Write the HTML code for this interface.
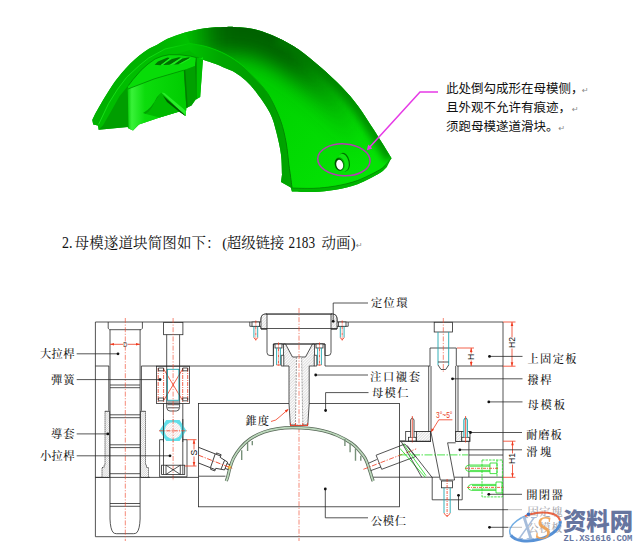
<!DOCTYPE html>
<html lang="zh"><head><meta charset="utf-8"><title>母模遂道块</title>
<style>
html,body{margin:0;padding:0;background:#fff;}
body{width:640px;height:551px;overflow:hidden;position:relative;}
svg{position:absolute;left:0;top:0;display:block;}
.note{font-family:"Liberation Sans","Noto Sans CJK SC",sans-serif;font-size:12.5px;fill:#111;font-weight:400;}
.head{font-family:"Liberation Serif","Noto Serif CJK SC",serif;font-size:14.5px;fill:#111;}
.lab{font-family:"Liberation Serif","Noto Serif CJK SC",serif;font-size:11.3px;fill:#1a1a1a;font-weight:500;}
.pm{font-family:"DejaVu Sans",sans-serif;font-size:8px;fill:#888;}
.k{stroke:#2a2a2a;stroke-width:.8;fill:none;}
.kf{stroke:#2a2a2a;stroke-width:.8;fill:#fff;}
.r{stroke:#f03a1e;stroke-width:.8;fill:none;}
.rd{stroke:#f04a30;stroke-width:.65;fill:none;stroke-dasharray:5 1.5 1.2 1.5;}
.c{stroke:#1fa7b0;stroke-width:.9;fill:none;}
.g{stroke:#1fdc1f;stroke-width:.8;fill:none;}
.dim{font-family:"Liberation Sans",sans-serif;font-size:8.5px;fill:#111;}
</style></head><body>
<svg width="640" height="551" viewBox="0 0 640 551">
<defs>
<pattern id="h1" width="2" height="2" patternUnits="userSpaceOnUse" patternTransform="rotate(45)"><rect width="2" height="2" fill="#fff"/><line x1="0" y1="0" x2="0" y2="2" stroke="#8c8c8c" stroke-width=".6"/></pattern>
<pattern id="h2" width="1.5" height="1.5" patternUnits="userSpaceOnUse" patternTransform="rotate(45)"><rect width="1.5" height="1.5" fill="#fff"/><line x1="0" y1="0" x2="0" y2="1.5" stroke="#8c8c8c" stroke-width=".6"/></pattern>
<pattern id="h3" width="1.8" height="1.8" patternUnits="userSpaceOnUse" patternTransform="rotate(45)"><rect width="1.8" height="1.8" fill="#fff"/><line x1="0" y1="0" x2="0" y2="1.8" stroke="#d9b8b8" stroke-width=".7"/></pattern>
<linearGradient id="gTop" gradientUnits="userSpaceOnUse" x1="200" y1="30" x2="360" y2="180"><stop offset="0" stop-color="#00c600"/><stop offset=".45" stop-color="#00d200"/><stop offset="1" stop-color="#04e404"/></linearGradient>
<linearGradient id="gEdge" gradientUnits="userSpaceOnUse" x1="186" y1="0" x2="360" y2="0"><stop offset="0" stop-color="#005000" stop-opacity="0"/><stop offset=".2" stop-color="#005000" stop-opacity=".85"/><stop offset=".6" stop-color="#005000" stop-opacity=".85"/><stop offset="1" stop-color="#005000" stop-opacity="0"/></linearGradient>
<linearGradient id="gInner" gradientUnits="userSpaceOnUse" x1="190" y1="0" x2="295" y2="0"><stop offset="0" stop-color="#00c200"/><stop offset=".3" stop-color="#00a600"/><stop offset=".7" stop-color="#009c00"/><stop offset="1" stop-color="#00a800"/></linearGradient>
<linearGradient id="gFront" gradientUnits="userSpaceOnUse" x1="127" y1="0" x2="187" y2="0"><stop offset="0" stop-color="#00c800"/><stop offset=".08" stop-color="#38f238"/><stop offset=".3" stop-color="#0cdc0c"/><stop offset="1" stop-color="#00cc00"/></linearGradient>
<linearGradient id="gRimA" gradientUnits="userSpaceOnUse" x1="92" y1="0" x2="190" y2="0"><stop offset="0" stop-color="#00b000"/><stop offset=".7" stop-color="#00b400"/><stop offset="1" stop-color="#00c200"/></linearGradient>
<linearGradient id="gRimB" gradientUnits="userSpaceOnUse" x1="92" y1="0" x2="190" y2="0"><stop offset="0" stop-color="#00bc00"/><stop offset=".7" stop-color="#00be00"/><stop offset="1" stop-color="#00c200"/></linearGradient>
<linearGradient id="gRimL" gradientUnits="userSpaceOnUse" x1="92" y1="0" x2="190" y2="0"><stop offset="0" stop-color="#18e018"/><stop offset=".7" stop-color="#10d810"/><stop offset="1" stop-color="#00c800"/></linearGradient>
<linearGradient id="gSeam" gradientUnits="userSpaceOnUse" x1="190" y1="0" x2="295" y2="0"><stop offset="0" stop-color="#00c800"/><stop offset=".5" stop-color="#00cc00"/><stop offset=".8" stop-color="#009000"/><stop offset="1" stop-color="#008400"/></linearGradient>
<filter id="blur" x="-30%" y="-40%" width="160%" height="180%"><feGaussianBlur stdDeviation="10"/></filter><filter id="blur2" x="-30%" y="-30%" width="160%" height="160%"><feGaussianBlur stdDeviation="3.5"/></filter>
</defs>
<!--GREEN-->
<g id="green">
<path fill="#00b800" d="M92.3 119.9 C92.9 118.7 94.1 115.9 95.9 112.6 C97.7 109.3 100.4 104.4 103.1 99.9 C105.8 95.4 109.2 89.8 112.2 85.4 C115.2 81.0 118.3 77.2 121.3 73.6 C124.3 70.0 127.4 66.6 130.4 63.6 C133.4 60.6 136.4 57.8 139.4 55.4 C142.4 53.0 145.5 50.9 148.5 49.1 C151.5 47.3 154.4 46.2 157.6 44.5 C160.8 42.8 162.9 40.8 167.5 38.8 C172.1 36.8 178.8 34.2 185.0 32.5 C191.2 30.8 198.3 29.2 205.0 28.2 C211.7 27.3 220.0 27.2 225.0 27.0 C230.0 26.8 229.8 26.6 235.0 27.0 C240.2 27.4 249.3 27.9 256.4 29.7 C263.5 31.5 270.6 34.4 277.7 37.7 C284.8 41.0 291.9 44.8 299.0 49.7 C306.1 54.6 313.3 60.8 320.4 67.0 C327.5 73.2 335.6 80.5 341.8 87.0 C348.0 93.5 352.5 98.6 357.8 105.7 C363.1 112.8 368.2 121.1 373.8 129.8 C379.4 138.5 388.5 153.3 391.4 158.0 L386.0 164.5 L387.0 166.7 L387.0 166.7 C385.7 167.8 384.3 170.4 379.4 173.3 C374.5 176.2 364.8 181.5 357.5 184.2 C350.2 186.9 342.9 188.4 335.6 189.7 C328.3 191.0 321.0 191.6 313.8 191.9 C306.5 192.2 295.5 191.5 291.9 191.4 L290.8 187.5 L281.0 182.0 L282.0 174.4 C281.8 171.1 281.9 161.6 281.0 154.7 C280.1 147.8 278.3 139.8 276.5 132.8 C274.7 125.9 273.4 119.7 270.0 113.0 C266.6 106.3 260.4 97.8 256.4 92.4 C252.3 87.0 249.3 83.7 245.7 80.4 C242.1 77.1 238.4 74.5 235.0 72.4 C231.6 70.3 228.3 69.4 225.0 68.0 C221.7 66.6 218.7 65.1 215.0 63.8 C211.3 62.4 205.0 60.5 203.0 59.8 L200.2 96.9 L195.9 99.5 L191.5 105.5 L186.4 108.0 L185.5 115.9 L179.5 111.5 L159.7 117.6 L139.0 124.5 L133.0 130.5 L128.6 128.5 L127.6 127.0 L98.6 129.8 L97.8 125.5 L93.2 124.6 Z"/>
<clipPath id="cpTop"><path d="M185.0 32.5 C188.3 31.8 198.3 29.2 205.0 28.2 C211.7 27.3 220.0 27.2 225.0 27.0 C230.0 26.8 229.8 26.6 235.0 27.0 C240.2 27.4 249.3 27.9 256.4 29.7 C263.5 31.5 270.6 34.4 277.7 37.7 C284.8 41.0 291.9 44.8 299.0 49.7 C306.1 54.6 313.3 60.8 320.4 67.0 C327.5 73.2 335.6 80.5 341.8 87.0 C348.0 93.5 352.5 98.6 357.8 105.7 C363.1 112.8 368.2 121.1 373.8 129.8 C379.4 138.5 388.5 153.3 391.4 158.0 L391.4 158.0 C390.5 159.1 388.0 162.5 386.0 164.5 C384.0 166.5 384.1 167.3 379.4 170.0 C374.6 172.7 364.8 177.8 357.5 180.5 C350.2 183.2 342.9 184.7 335.6 186.0 C328.3 187.3 321.0 188.0 313.8 188.3 C306.5 188.6 295.6 188.1 292.0 188.0 L292.0 188.0 C291.8 186.0 291.0 179.9 290.5 176.0 C290.0 172.1 289.6 170.3 288.9 164.8 C288.2 159.3 287.5 150.3 286.2 143.0 C284.9 135.7 283.3 128.4 280.8 121.2 C278.3 114.0 274.1 105.0 271.2 99.5 C268.3 94.0 266.7 91.9 263.6 88.0 C260.5 84.1 256.3 79.8 252.7 76.0 C249.1 72.2 246.2 68.6 241.8 65.0 C237.4 61.4 231.7 57.5 226.0 54.5 C220.3 51.5 213.5 48.8 207.5 47.0 C201.5 45.2 192.9 44.1 190.0 43.5 Z"/></clipPath>
<g clip-path="url(#cpTop)">
<rect x="160" y="20" width="240" height="180" fill="url(#gTop)"/>
<path d="M150.0 48.0 C155.8 45.4 175.8 35.8 185.0 32.5 C194.2 29.2 198.3 29.2 205.0 28.2 C211.7 27.3 220.0 27.2 225.0 27.0 C230.0 26.8 229.8 26.6 235.0 27.0 C240.2 27.4 249.3 27.9 256.4 29.7 C263.5 31.5 270.6 34.4 277.7 37.7 C284.8 41.0 291.9 44.8 299.0 49.7 C306.1 54.6 313.3 60.8 320.4 67.0 C327.5 73.2 335.6 80.5 341.8 87.0 C348.0 93.5 352.5 98.6 357.8 105.7 C363.1 112.8 368.2 121.1 373.8 129.8 C379.4 138.5 388.5 153.3 391.4 158.0" fill="none" stroke="url(#gEdge)" stroke-width="56" filter="url(#blur)" stroke-linejoin="round"/>
<path d="M277.7 37.7 C281.2 39.7 291.9 44.8 299.0 49.7 C306.1 54.6 313.3 60.8 320.4 67.0 C327.5 73.2 335.6 80.5 341.8 87.0 C348.0 93.5 352.5 98.6 357.8 105.7 C363.1 112.8 368.2 121.1 373.8 129.8 C379.4 138.5 388.5 153.3 391.4 158.0" fill="none" stroke="#007800" stroke-opacity=".75" stroke-width="14" filter="url(#blur2)" stroke-linejoin="round"/>
</g>
<path fill="url(#gInner)" d="M190.0 43.5 C192.9 44.1 201.5 45.2 207.5 47.0 C213.5 48.8 220.3 51.5 226.0 54.5 C231.7 57.5 237.4 61.4 241.8 65.0 C246.2 68.6 249.1 72.2 252.7 76.0 C256.3 79.8 260.5 84.1 263.6 88.0 C266.7 91.9 268.3 94.0 271.2 99.5 C274.1 105.0 278.3 114.0 280.8 121.2 C283.3 128.4 284.9 135.7 286.2 143.0 C287.5 150.3 288.2 159.3 288.9 164.8 C289.6 170.3 290.0 172.1 290.5 176.0 C291.0 179.9 291.8 186.0 292.0 188.0 L291.9 191.4 L290.8 187.5 L281.0 182.0 L282.0 174.4 C281.8 171.1 281.9 161.6 281.0 154.7 C280.1 147.8 278.3 139.8 276.5 132.8 C274.7 125.9 273.4 119.7 270.0 113.0 C266.6 106.3 260.4 97.8 256.4 92.4 C252.3 87.0 249.3 83.7 245.7 80.4 C242.1 77.1 238.4 74.5 235.0 72.4 C231.6 70.3 228.3 69.4 225.0 68.0 C221.7 66.6 218.7 65.1 215.0 63.8 C211.3 62.4 205.0 60.5 203.0 59.8 L190.0 51.0 Z"/>
<path fill="none" stroke="url(#gSeam)" stroke-width="1" d="M190.0 43.5 C192.9 44.1 201.5 45.2 207.5 47.0 C213.5 48.8 220.3 51.5 226.0 54.5 C231.7 57.5 237.4 61.4 241.8 65.0 C246.2 68.6 249.1 72.2 252.7 76.0 C256.3 79.8 260.5 84.1 263.6 88.0 C266.7 91.9 268.3 94.0 271.2 99.5 C274.1 105.0 278.3 114.0 280.8 121.2 C283.3 128.4 284.9 135.7 286.2 143.0 C287.5 150.3 288.2 159.3 288.9 164.8 C289.6 170.3 290.0 172.1 290.5 176.0 C291.0 179.9 291.8 186.0 292.0 188.0"/>
<path fill="#00b400" d="M292.0 188.0 C295.6 188.1 306.5 188.6 313.8 188.3 C321.0 188.0 328.3 187.3 335.6 186.0 C342.9 184.7 350.2 183.2 357.5 180.5 C364.8 177.8 374.6 172.7 379.4 170.0 C384.1 167.3 384.0 166.5 386.0 164.5 C388.0 162.5 390.5 159.1 391.4 158.0 L387.0 166.7 L387.0 166.7 C385.7 167.8 384.3 170.4 379.4 173.3 C374.5 176.2 364.8 181.5 357.5 184.2 C350.2 186.9 342.9 188.4 335.6 189.7 C328.3 191.0 321.0 191.6 313.8 191.9 C306.5 192.2 295.5 191.5 291.9 191.4 Z"/>
<path fill="none" stroke="#008000" stroke-width=".7" d="M292.0 188.0 C295.6 188.1 306.5 188.6 313.8 188.3 C321.0 188.0 328.3 187.3 335.6 186.0 C342.9 184.7 350.2 183.2 357.5 180.5 C364.8 177.8 374.6 172.7 379.4 170.0 C384.1 167.3 384.0 166.5 386.0 164.5 C388.0 162.5 390.5 159.1 391.4 158.0"/>
<path fill="url(#gRimA)" d="M92.3 119.9 L95.9 112.6 L103.1 99.9 L112.2 85.4 L121.3 73.6 L130.4 63.6 L139.4 55.4 L148.5 49.1 L157.6 44.5 L167.5 38.75 L185 32.5 L190 43.5 L165 49 L148.5 58.1 L139.4 65.4 L126.7 77.2 L117.7 89 L108.6 103.5 L98.6 124.4 L97.8 125.5 L93.2 124.6 Z"/>
<path fill="url(#gRimB)" d="M190 43.5 L165 49 L148.5 58.1 L139.4 65.4 L126.7 77.2 L117.7 89 L108.6 103.5 L98.6 124.4 L98.6 129.8 L103.1 125.3 L110.4 112.6 L119.5 96.3 L128.6 84.5 L139.4 72.7 L148.5 65.4 L154 61.8 L165 57.2 L190 50 Z"/>
<path fill="none" stroke="url(#gRimL)" stroke-width="1" d="M190 43.5 L165 49 L148.5 58.1 L139.4 65.4 L126.7 77.2 L117.7 89 L108.6 103.5 L98.6 124.4"/>
<path fill="#009e00" d="M98.6 129.8 L103.1 125.3 L110.4 112.6 L119.5 96.3 L128.4 85.6 L127.75 89.1 L128.6 128.5 L127.6 127 Z"/>
<path fill="#08dc08" d="M128.4 85.6 L133 79.5 L141.1 70.2 L148 64 L155.2 58.9 L162 56.2 L169.2 54.7 L180 54.8 L190.3 56.1 L198.8 58.2 L203 59.8 L203 57 L195 62.4 L195 65.9 L183.8 70.2 L169.2 74.4 L154.5 78.8 L127.75 89.1 Z"/>
<path fill="none" stroke="#008400" stroke-width=".8" d="M128.4 85.6 L133 79.5 L141.1 70.2 L148 64 L155.2 58.9 L162 56.2 L169.2 54.7 L180 54.8 L190.3 56.1 L198.8 58.2"/>
<path fill="#007000" d="M154.6 64.8 L158 61.6 L167.5 57.6 L170 58 L160.5 65.2 Z M162 65 L172 59 L179 57.2 L181 57.8 L170 64.8 Z M172 64.5 L182.5 58.4 L189 57.3 L190 58 L178 64.6 Z"/>
<path fill="#20ea20" d="M156.5 65.6 L160.5 65.2 L170 58 L171 58.6 L163 65 Z M166 65.4 L170 64.8 L181 57.8 L182 58.4 L174 64.4 Z M175.5 64.8 L178 64.6 L190 58 L190.6 58.8 L182 63.6 Z"/>
<path fill="url(#gFront)" d="M127.75 89.1 L154.5 78.8 L183.8 70.2 L186.4 108 L185.5 115.9 L179.5 111.5 L159.7 117.6 L139 124.5 L133 130.5 L128.6 128.5 Z"/>
<path fill="none" stroke="#009000" stroke-width=".8" d="M127.75 89.1 L154.5 78.8 L183.8 70.2"/>
<path fill="#00b800" d="M161.4 92.6 L185.5 113.3 L179.5 111.5 L159.7 117.6 L145.9 114.1 Q152 110 155 102 Z"/>
<path fill="#00a400" d="M145.9 114.1 Q152 110 155 102 L161.4 92.6 L157 97 Q152 108 143 113 Z"/>
<path fill="#28ee28" d="M161.4 92.6 L164.5 93 L186 111 L185.5 115.9 Z"/>
<path fill="#005800" d="M163 95.8 L184 114 L185.5 115.9 L179.5 112 L167 102 Z"/>
<path fill="#00a000" d="M183.8 70.2 L195 65.9 L195.9 98.6 L191.5 105.5 L186.4 108 Z"/>
<path fill="#008000" d="M183.8 70.2 L185.3 69.6 L187.8 107.3 L186.4 108 Z"/>
<path fill="#00c000" d="M195.9 57.2 L202.75 59.8 L200.2 96.9 L195.9 99.5 Z"/>
<path fill="#008a00" d="M195 65.9 L195.9 57.2 L196.8 57.5 L196.6 99 L195.9 99.5 Z"/>
</g>
<!--ANNOT-->
<g id="annot">
<g transform="rotate(-12 342 163)">
<ellipse cx="344.3" cy="162.6" rx="5.6" ry="9.4" fill="#007000"/>
<ellipse cx="343.3" cy="162.8" rx="5.4" ry="9" fill="#10e410"/>
<ellipse cx="339.6" cy="163.6" rx="4.9" ry="7" fill="#00b000"/>
<ellipse cx="338.9" cy="163.8" rx="4.4" ry="6.2" fill="#005000"/>
<ellipse cx="339.4" cy="164.2" rx="3.4" ry="5.1" fill="#fff"/>
</g>
<ellipse cx="343.9" cy="159.8" rx="26.2" ry="15.9" fill="none" stroke="#b43cb4" stroke-width="1.5" transform="rotate(3 343.9 159.8)"/>
<path d="M368.5 148.5 L420 92 L438 92" fill="none" stroke="#e63ae6" stroke-width="1.5"/>
<path d="M366.8 150.3 L368.3 144.6 L372.4 148.4 Z" fill="#e63ae6"/>
<text class="note" x="446" y="92.5">此处倒勾成形在母模侧，<tspan class="pm" dx="-1.5">↵</tspan></text>
<text class="note" x="446" y="111.8">且外观不允许有痕迹，<tspan class="pm" dx="1">↵</tspan></text>
<text class="note" x="446" y="130.5">须跑母模遂道滑块。<tspan class="pm" dx="0">↵</tspan></text>
<text class="head" y="247.5"><tspan x="62" font-size="16.5" textLength="10.5" lengthAdjust="spacingAndGlyphs">2.</tspan><tspan x="74.6" textLength="146" lengthAdjust="spacing">母模遂道块简图如下：</tspan><tspan x="222.3">(</tspan><tspan x="226.8" textLength="57.5" lengthAdjust="spacing">超级链接</tspan><tspan x="288.5" font-size="16.5" textLength="26.5" lengthAdjust="spacingAndGlyphs">2183</tspan><tspan x="321.6" textLength="29">动画</tspan><tspan x="350.7">)</tspan><tspan class="pm" x="356">↵</tspan></text>
</g>
<!--DRAWING-->
<g id="drawing">
<!-- main frame -->
<path class="k" d="M250 322 H95.4 V536.7 H503 V322 H348.2"/>
<path class="k" d="M95.4 366 H109 M141.4 366 H273.4 M325 366 H430 M457 366 H503"/>
<path class="k" d="M95.4 477.4 H198.5 M198.5 476.2 H225.5 M372 477.2 H439.5 M454.3 477.2 H503"/>
<rect class="k" x="198.5" y="403.5" width="201" height="103.3"/>
<!-- big pull rod -->
<path class="k" d="M108.2 322 V328.3 L109.6 329.7 H141 L142.4 328.3 V322" stroke-width="1.1"/>
<path class="k" d="M110 329.7 V519 Q110.4 529 113 532.3 Q114.2 533.7 116.5 533.7 H133.6 Q135.9 533.7 137.1 532.3 Q139.7 529 140.1 519 V329.7"/>
<path class="k" d="M108.8 366 V410.8 M141.4 366 V410.8"/>
<path class="k" d="M110 385 H140 M110 387.7 H140 M110 414.8 H140 M110 417.7 H140 M110 444.8 H140 M110 447.6 H140 M110 473.7 H140 M110 503.5 H140 M110 506.3 H140" stroke-width=".7"/>
<!-- guide sleeve -->
<path style="fill:url(#h2)" stroke="none" d="M105 411.3 H109.6 V477 H102 V467.5 H104 V465 H105 Z"/><path class="k" d="M105 411.3 H109.8 M109.6 411.3 V477" stroke-width="1.1"/><path class="k" d="M105 411.3 V465 H104 V467.5 H102 V477" stroke-dasharray="1.2 .8" stroke-width=".7"/>
<path style="fill:url(#h2)" stroke="none" d="M145.5 411.3 H140.5 V477 H148.5 V467.5 H146.5 V465 H145.5 Z"/><path class="k" d="M145.5 411.3 H140.3 M140.5 411.3 V477" stroke-width="1.1"/><path class="k" d="M145.5 411.3 V465 H146.5 V467.5 H148.5 V477" stroke-dasharray="1.2 .8" stroke-width=".7"/>
<path class="k" d="M95.4 477.4 H109.6 M140.5 477.4 H150" stroke-width="1.5"/>
<!-- D dim -->
<path class="r" d="M110 344.3 H140"/>
<path d="M110 344.3 l4 -1.3 v2.6 Z M140 344.3 l-4 -1.3 v2.6 Z" fill="#f03a1e"/>
<rect x="123" y="341" width="4.6" height="6.6" fill="#fff"/><text x="123.2" y="347.2" font-family="Liberation Sans, sans-serif" font-size="7.5" fill="#222" textLength="4" lengthAdjust="spacingAndGlyphs">D</text>
<path class="rd" d="M125.3 318 V541"/>
<!-- bolt 1 -->
<rect class="kf" x="163.6" y="322.4" width="19.3" height="12.3" stroke-width="1"/>
<path class="k" d="M166.7 334.7 V366 M179.6 334.7 V366" stroke-width="1"/>
<!-- spring box -->
<rect class="k" x="156.4" y="366.2" width="33" height="37.3"/>
<path class="r" d="M158.2 368 V402 M163.6 368 V402 M182.7 368 V402 M187.7 368 V402" stroke-dasharray="4 1 1 1" stroke-width=".6"/>
<path class="r" d="M163.8 369.3 L182.5 400.3 M182.5 369.3 L163.8 400.3" stroke-width=".7"/>
<path class="k" d="M158.4 368 h5.2 v2.8 h-5.2z M182.7 368 h5 v2.8 h-5z M158.4 398 h5.2 v2.8 h-5.2z M182.7 398 h5 v2.8 h-5z" stroke-width=".6" stroke="#666"/>
<rect class="c" x="167.4" y="369.3" width="11.5" height="31"/>
<path class="k" d="M166.7 366 V407.5 Q167 411 170 411 H176.3 Q179.3 411 179.6 407.5 V366"/>
<path class="k" d="M167.4 402 H179 M167.4 404.7 H179 M167.4 407.8 H179" stroke-width=".6"/>
<path class="k" d="M163.5 403.5 V474.4 M182.8 403.5 V474.4"/>
<path class="rd" d="M173.1 318 V481"/>
<!-- hexagon -->
<path d="M159.4 430.5 L166.2 420 H179.6 L186.3 430.5 L179.6 441 H166.2 Z" fill="#62dfe9"/>
<circle cx="173" cy="430.6" r="8.4" fill="url(#h3)"/>
<path class="k" d="M163.5 419 V442 M182.8 419 V442"/>
<path class="r" d="M159 430.8 H187" stroke-dasharray="4 1.2 1 1.2"/>
<path class="rd" d="M173.1 419 V442"/>
<!-- small rod box -->
<path class="k" d="M159.6 439.7 V476.8 H187 V439.7"/>
<path class="k" d="M159.6 439.7 H163.5 M182.8 439.7 H187"/>
<rect class="k" x="161.6" y="465.2" width="23.1" height="9.2"/>
<path class="k" d="M166 465.2 L180.3 474.4 M180.3 465.2 L166 474.4 M166 465.2 V474.4 M180.3 465.2 V474.4" stroke-width=".6"/>
<!-- S dim -->
<path class="r" d="M187 439.7 H196.5 M185 466 H196.5 M194 439.7 V466"/>
<path d="M194 439.7 l-1.3 4 h2.6 Z M194 466 l-1.3 -4 h2.6 Z" fill="#f03a1e"/>
<rect x="190.5" y="449.5" width="7" height="7" fill="#fff"/>
<text class="dim" transform="translate(196.6 455.5) rotate(-90)">S</text>
<!-- locating ring -->
<path class="kf" d="M249.8 322 H261 V319 Q261 314 266 314 H332 Q337 314 337 319 V322 H348.2 V326.3 H337 V329 H331 V352.5 Q331 355.5 328 355.5 H325 V344 H273.4 V355.5 H270 Q267 355.5 267 352.5 V329 H261 V326.3 H249.8 Z"/>
<path d="M261 326.3 V319 Q261 314 266 314 H267 V329 H261 Z" style="fill:url(#h1)" class="k"/>
<path d="M337 326.3 V319 Q337 314 332 314 H331 V329 H337 Z" style="fill:url(#h1)" class="k"/>
<path class="k" d="M261 328.5 H337" stroke-width="1.3"/><path class="k" d="M266 314.1 H332" stroke-width="1.1"/>
<!-- ring screws -->
<g id="rs1">
<rect class="kf" x="252" y="322" width="7.6" height="4.3"/>
<path class="c" d="M253.9 326.3 V337.5 M257.7 326.3 V337.5" stroke-width="1.1"/>
<path class="r" d="M253.9 337.5 Q255.8 341.5 257.7 337.5" stroke-width="1"/>
<path class="r" d="M255.8 320.5 V340.5" stroke-dasharray="3 1 1 1" stroke-width=".6"/>
</g>
<g transform="translate(86.4 0)">
<rect class="kf" x="252" y="322" width="7.6" height="4.3"/>
<path class="c" d="M253.9 326.3 V337.5 M257.7 326.3 V337.5" stroke-width="1.1"/>
<path class="r" d="M253.9 337.5 Q255.8 341.5 257.7 337.5" stroke-width="1"/>
<path class="r" d="M255.8 320.5 V340.5" stroke-dasharray="3 1 1 1" stroke-width=".6"/>
</g>
<!-- sprue bushing -->
<path class="k" style="fill:url(#h1)" d="M283.5 344 H285.5 L292.5 357 H305.5 L312.5 344 H314.5 V366 H309.2 V403.5 L307.8 425 H290.3 L289 403.5 V366 H283.5 Z"/>
<path class="k" d="M273.4 344 H325 M273.4 344 V366 M325 344 V366"/>
<path d="M296.6 357 L295.4 425 H302.8 L301.6 357 Z" fill="#fff" stroke="#666" stroke-width=".6" stroke-dasharray="2 1"/>
<g id="ss1">
<rect class="kf" x="275" y="344" width="7" height="4"/>
<path class="c" d="M276.6 348 V365 M280.4 348 V365" stroke-width="1.1"/>
<path class="r" d="M276.6 365 H280.4" stroke-width="1"/>
<path class="r" d="M278.5 342.5 V366.5" stroke-dasharray="3 1 1 1" stroke-width=".6"/>
</g>
<g transform="translate(41 0)">
<rect class="kf" x="275" y="344" width="7" height="4"/>
<path class="c" d="M276.6 348 V365 M280.4 348 V365" stroke-width="1.1"/>
<path class="r" d="M276.6 365 H280.4" stroke-width="1"/>
<path class="r" d="M278.5 342.5 V366.5" stroke-dasharray="3 1 1 1" stroke-width=".6"/>
</g>
<path class="kf" d="M281.2 355.3 H283.8 V366 H281.2 Z M314.2 355.3 H316.8 V366 H314.2 Z" stroke-width=".6"/>
<path class="r" d="M290 425.5 H308 M290.6 423 V426 M295.6 423 V426 M302.8 423 V426 M307.6 423 V426" stroke-width=".8"/>
<path class="rd" d="M299 308 V541"/>
<!-- arch -->
<path d="M226.3 481.0 C226.5 480.3 227.1 479.0 227.7 476.9 C228.3 474.8 228.9 471.4 229.8 468.4 C230.7 465.3 231.6 462.0 233.3 458.6 C235.1 455.2 237.5 451.3 240.3 448.0 C243.1 444.7 246.2 441.6 250.2 438.9 C254.2 436.2 259.5 433.6 264.2 431.9 C268.9 430.2 273.6 429.3 278.3 428.6 C283.0 427.9 287.3 427.7 292.4 427.7 C297.5 427.7 303.9 427.9 309.0 428.4 C314.1 428.9 318.4 429.6 323.1 430.8 C327.8 431.9 332.5 433.3 337.2 435.4 C341.9 437.5 347.8 440.8 351.3 443.1 C354.8 445.5 356.0 446.9 358.3 449.5 C360.6 452.1 363.4 455.2 365.3 458.6 C367.2 462.0 368.4 466.8 369.5 469.9 C370.6 472.9 371.1 475.0 371.7 476.9 C372.3 478.8 372.9 480.3 373.2 481.0" fill="none" stroke="#566656" stroke-width="3.2"/>
<path d="M226.3 481.0 C226.5 480.3 227.1 479.0 227.7 476.9 C228.3 474.8 228.9 471.4 229.8 468.4 C230.7 465.3 231.6 462.0 233.3 458.6 C235.1 455.2 237.5 451.3 240.3 448.0 C243.1 444.7 246.2 441.6 250.2 438.9 C254.2 436.2 259.5 433.6 264.2 431.9 C268.9 430.2 273.6 429.3 278.3 428.6 C283.0 427.9 287.3 427.7 292.4 427.7 C297.5 427.7 303.9 427.9 309.0 428.4 C314.1 428.9 318.4 429.6 323.1 430.8 C327.8 431.9 332.5 433.3 337.2 435.4 C341.9 437.5 347.8 440.8 351.3 443.1 C354.8 445.5 356.0 446.9 358.3 449.5 C360.6 452.1 363.4 455.2 365.3 458.6 C367.2 462.0 368.4 466.8 369.5 469.9 C370.6 472.9 371.1 475.0 371.7 476.9 C372.3 478.8 372.9 480.3 373.2 481.0" fill="none" stroke="#bcd8bc" stroke-width="1.7"/>
<path d="M252.3 441 V445.2 M247.6 443.1 V450.9 M241.7 450.2 V460 M344.9 438.9 V445.9 M350.1 443.1 V452.3 M355.5 448.7 V460.7 M360.8 455.8 V460.7" stroke="#78917a" stroke-width="1.4" fill="none"/>
<!-- left angled pin -->
<clipPath id="cpL"><rect x="198.6" y="430" width="60" height="60"/></clipPath>
<g clip-path="url(#cpL)"><g transform="translate(198.6 455.2) rotate(21.5)">
<path class="k" d="M-4 -7.3 H15 L15.6 7.3 H-4"/>
<path class="k" d="M15.8 -7.3 V-8.7 H20.8 V-5.9 M16.2 7.3 V8.7 H20.8 V5.9 M15.3 -7.3 H20.8 M15.8 7.3 H20.8" stroke-width=".7"/>
<path class="k" d="M20.8 -5.9 L29.5 -4.2 V4.2 L20.8 5.9" stroke-width=".7"/>
<path class="k" d="M26 -4.8 V4.8 M29.5 -2.6 H32.5 V2.6 H29.5" stroke-width=".6"/>
<rect x="31.8" y="-1.6" width="2.6" height="3.2" fill="#f2c84a"/>
<path class="r" d="M0 0 H37" stroke-dasharray="5 1.5 1.2 1.5"/>
</g></g>
<!-- right angled pin -->
<path class="k" d="M376.1 455.2 L404.9 444 L415.5 456.6 L381.7 469.3 Z"/>
<path class="k" d="M368.4 463.3 L376.8 459.5 M370.5 470.7 L381 466.9"/>
<path class="r" d="M363.4 469.3 L416.2 448.9" stroke-dasharray="5 1.5 1.2 1.5"/>
<!-- cam pin -->
<path class="k" d="M430 366 V348 H456.3 V366"/>
<path class="k" d="M428.7 366 V431.8 M431 366 V431.8 M455.7 366 V431.8 M458 366 V431.8"/>
<!-- right bolt -->
<rect class="kf" x="434.2" y="322.3" width="18.3" height="9.7" stroke-width="1"/>
<path class="c" d="M438 332 V365 M448.7 332 V365" stroke-width="1.3"/>
<path class="k" d="M438 362 H448.7 M438 365 L441 369.5 H445.7 L448.7 365"/>
<path class="rd" d="M443.3 318 V372" stroke-width=".6"/>
<!-- H dims -->
<path class="r" d="M457 348 H474 M471.2 348 V366"/>
<path d="M471.2 348 l-1.3 4 h2.6 Z M471.2 366 l-1.3 -4 h2.6 Z" fill="#f03a1e"/>
<rect x="467.5" y="353.5" width="7" height="7" fill="#fff"/>
<text class="dim" transform="translate(473.8 360) rotate(-90)">H</text>
<path class="r" d="M503 322 H515.5 M503 366.2 H515.5 M512 322 V366.2"/>
<path d="M512 322 l-1.3 4 h2.6 Z M512 366.2 l-1.3 -4 h2.6 Z" fill="#f03a1e"/>
<rect x="508" y="337.5" width="8" height="11" fill="#fff"/>
<text class="dim" transform="translate(514.7 348) rotate(-90)">H2</text>
<path class="r" d="M503 441.2 H515.5 M503 477.3 H515.5 M512.5 441.2 V477.3"/>
<path d="M512.5 441.2 l-1.3 4 h2.6 Z M512.5 477.3 l-1.3 -4 h2.6 Z" fill="#f03a1e"/>
<rect x="508.5" y="453.5" width="8" height="11" fill="#fff"/>
<text class="dim" transform="translate(515.2 464) rotate(-90)">H1</text>
<!-- wear plates -->
<rect class="k" x="405.7" y="431.5" width="24.8" height="9.9"/><rect class="k" style="fill:url(#h1)" x="416.5" y="431.5" width="14" height="9.9" stroke-width=".5"/><rect x="399.5" y="440.4" width="6.2" height="1.7" fill="#777"/>
<rect class="k" x="455.7" y="431.5" width="14.3" height="9.9"/><rect class="k" style="fill:url(#h1)" x="455.7" y="431.5" width="6" height="9.9" stroke-width=".5"/>
<g id="ws1">
<rect class="kf" x="408.5" y="437.3" width="7.6" height="3.9"/>
<path class="kf" d="M410.6 437.3 V420 Q412.3 416 414 420 V437.3" stroke-width=".7"/>
<path class="r" d="M412.3 416 V442.5" stroke-width=".6"/>
</g>
<g transform="translate(53.3 0)">
<rect class="kf" x="408.5" y="437.3" width="7.6" height="3.9"/>
<path d="M410.6 437.3 V420 Q412.3 416 414 420 V437.3" fill="#fff" stroke="#1fa7b0" stroke-width="1.1"/>
<path class="r" d="M412.3 416 V442.5" stroke-width=".6"/>
</g>
<!-- slider -->
<path class="k" d="M399.5 441.2 H430.8 M447.6 442.8 H455.7 M468.9 441.2 V477"/>
<path class="k" d="M430.9 431.8 L440.3 480 H454.6 L447.6 442.8"/>
<!-- box below -->
<path class="k" d="M432.2 477 V499.8 H462.2 V477"/>
<rect class="kf" x="441.4" y="481" width="11" height="6.8"/>
<path class="c" d="M444 487.8 V513 M450.2 487.8 V513" stroke-width="1.2"/>
<path class="r" d="M444 513 Q447.1 519 450.2 513" stroke-width="1"/>
<path class="r" d="M447.1 479 V517" stroke-dasharray="3 1 1 1" stroke-width=".6"/>
<!-- green stuff -->
<path class="g" d="M399.5 454.9 H468" stroke-dasharray="8 1.5 1.5 1.5"/>
<path class="g" d="M399.7 448.2 L425.3 477.3 M403 443.5 L426 475.6"/>
<path class="k" d="M401.4 441.9 L421.8 477.3 M407 445.4 L432 477.3"/>
<path class="g" d="M482 460 H502.4 V496.9 H482 Z M497 460 V477" stroke-dasharray="2.5 1"/>
<path class="g" d="M490 465 H469 Q465.5 465.5 465.5 468.3 Q465.5 471 469 471.6 H490 M490 466.2 H470 M490 470.4 H470" stroke-width="1"/>
<path class="g" d="M490 463 H497 V473.6 H490 Z"/>
<path class="g" d="M496 484.4 H471.5 Q468 485 468 487.4 Q468 489.8 471.5 490.4 H496 M496 485.6 H472 M496 489.2 H472" stroke-width="1"/>
<path class="g" d="M496 482 H502 V493 H496 Z"/>
<path class="r" d="M465 468.3 H498 M467 487.4 H503.5" stroke-dasharray="3 1 1 1" stroke-width=".6"/>
<path class="k" d="M468.9 455 H503"/>
<!-- 3~5 deg -->
<text x="436" y="418" font-family="Liberation Sans, sans-serif" font-size="8.5" fill="#e8381c" textLength="16.5" lengthAdjust="spacingAndGlyphs">3°~5°</text>
<path class="r" d="M452.4 419.8 H438.8 L431.6 431.5"/>
<path d="M431 432 l.6 -3.8 l2.4 1.6 Z" fill="#f03a1e"/>
<!-- 錐度 arrow -->
<path class="r" d="M271 421.5 Q276 421 280 416.5 L288 409.5"/>
<path d="M288.6 409 l-3.8 1.2 l1.8 2.2 Z" fill="#f03a1e"/>
<!-- leaders -->
<g class="k" stroke-width=".9">
<path d="M76.7 353.8 H118"/><path d="M76.7 379.6 H160"/><path d="M76.7 433.9 H107.8"/><path d="M76.7 455.8 H170"/>
<path d="M333.2 321.3 V303 H368"/><path d="M315.7 375 H368"/><path d="M368.5 392.6 H325.6 V410.5"/><path d="M325.3 489 V517.8 H368"/>
<path d="M489.5 356.4 H522.5"/><path d="M452.5 378.8 H522.5"/><path d="M488.8 401.9 H522.5"/>
<path d="M470.5 432.5 H522"/><path d="M459.8 449.8 H522"/><path d="M488.8 494.3 H522"/><path d="M458.5 495.3 V509.7 H508"/><path d="M508 509.7 H522" stroke="#aaa"/><path d="M489.5 527.3 H508"/><path d="M508 527.3 H522" stroke="#aaa"/>
</g>
<g fill="#111">
<circle cx="118" cy="353.8" r="1.4"/><circle cx="160" cy="379.6" r="1.4"/><circle cx="107.8" cy="433.9" r="1.4"/><circle cx="170" cy="455.8" r="1.4"/>
<circle cx="333.2" cy="321.3" r="1.4"/><circle cx="315.7" cy="375" r="1.4"/><circle cx="325.6" cy="410.5" r="1.4"/><circle cx="325.3" cy="489" r="1.4"/>
<circle cx="489.5" cy="356.4" r="1.4"/><circle cx="452.5" cy="378.8" r="1.4"/><circle cx="488.8" cy="401.9" r="1.4"/>
<circle cx="470.5" cy="432.5" r="1.4"/><circle cx="459.8" cy="449.8" r="1.4"/><circle cx="488.8" cy="494.3" r="1.4"/><circle cx="458.5" cy="495.3" r="1.4"/><circle cx="489.5" cy="527.3" r="1.4"/>
</g>
<!-- labels -->
<g class="lab">
<text x="40" y="358" textLength="34.5">大拉桿</text>
<text x="51" y="384" textLength="23.5">彈簧</text>
<text x="51" y="438.2" textLength="23.5">導套</text>
<text x="40" y="460" textLength="34.5">小拉桿</text>
<text x="371" y="307.3" textLength="36.5">定位環</text>
<text x="370" y="381.3" textLength="50">注口襯套</text>
<text x="372" y="396.8" textLength="36.5">母模仁</text>
<text x="371" y="524.7" textLength="35">公模仁</text>
<text x="245.5" y="424.7" textLength="23.5">錐度</text>
<text x="527.5" y="363" textLength="49">上固定板</text>
<text x="527.5" y="383.8" textLength="24">撥桿</text>
<text x="527.5" y="408.8" textLength="37.5">母模板</text>
<text x="526.2" y="439.3" textLength="35.5">耐磨板</text>
<text x="526.2" y="456" textLength="25">滑塊</text>
<text x="526.2" y="498.5" textLength="36.5">開閉器</text>
<text x="527.5" y="516" textLength="35" fill="#a8a8ae">固定塊</text>
<text x="527.5" y="532.3" textLength="35" fill="#a8a8ae">公模板</text>
</g>
</g>
<!--WATERMARK-->
<g id="wm">
<g transform="rotate(-14 535 527)" fill="none" opacity=".85">
<path d="M509.5 529 A26 13.5 0 0 0 561 527" stroke="#3b7fd0" stroke-width="3"/>
<path d="M509.5 529 A26 13.5 0 0 1 545 514.5" stroke="#5aa0e0" stroke-width="1.6"/>
<path d="M528 514 A26 13.5 0 0 1 561 527" stroke="#e8502a" stroke-width="2"/>
</g>
<circle cx="528.4" cy="514.2" r="1.7" fill="#3c6fc0"/>
<text x="517.5" y="538.7" font-family="Liberation Serif, serif" font-style="italic" font-size="34" fill="#9db6d8" opacity=".9" textLength="18.5" lengthAdjust="spacingAndGlyphs">X</text>
<text x="535.5" y="538.7" font-family="Liberation Serif, serif" font-style="italic" font-size="34" fill="#f0a050" opacity=".9" textLength="15.5" lengthAdjust="spacingAndGlyphs">S</text>
<text x="563" y="530" font-family="Liberation Sans, Noto Sans CJK SC, sans-serif" font-weight="900" font-size="23.5" fill="#66759f" textLength="70" lengthAdjust="spacingAndGlyphs">资料网</text>
<text x="563.4" y="541" font-family="Liberation Mono, monospace" font-weight="700" font-size="9.2" fill="#66759f" textLength="69" lengthAdjust="spacingAndGlyphs">ZL.XS1616.COM</text>
</g>
</svg>
</body></html>
